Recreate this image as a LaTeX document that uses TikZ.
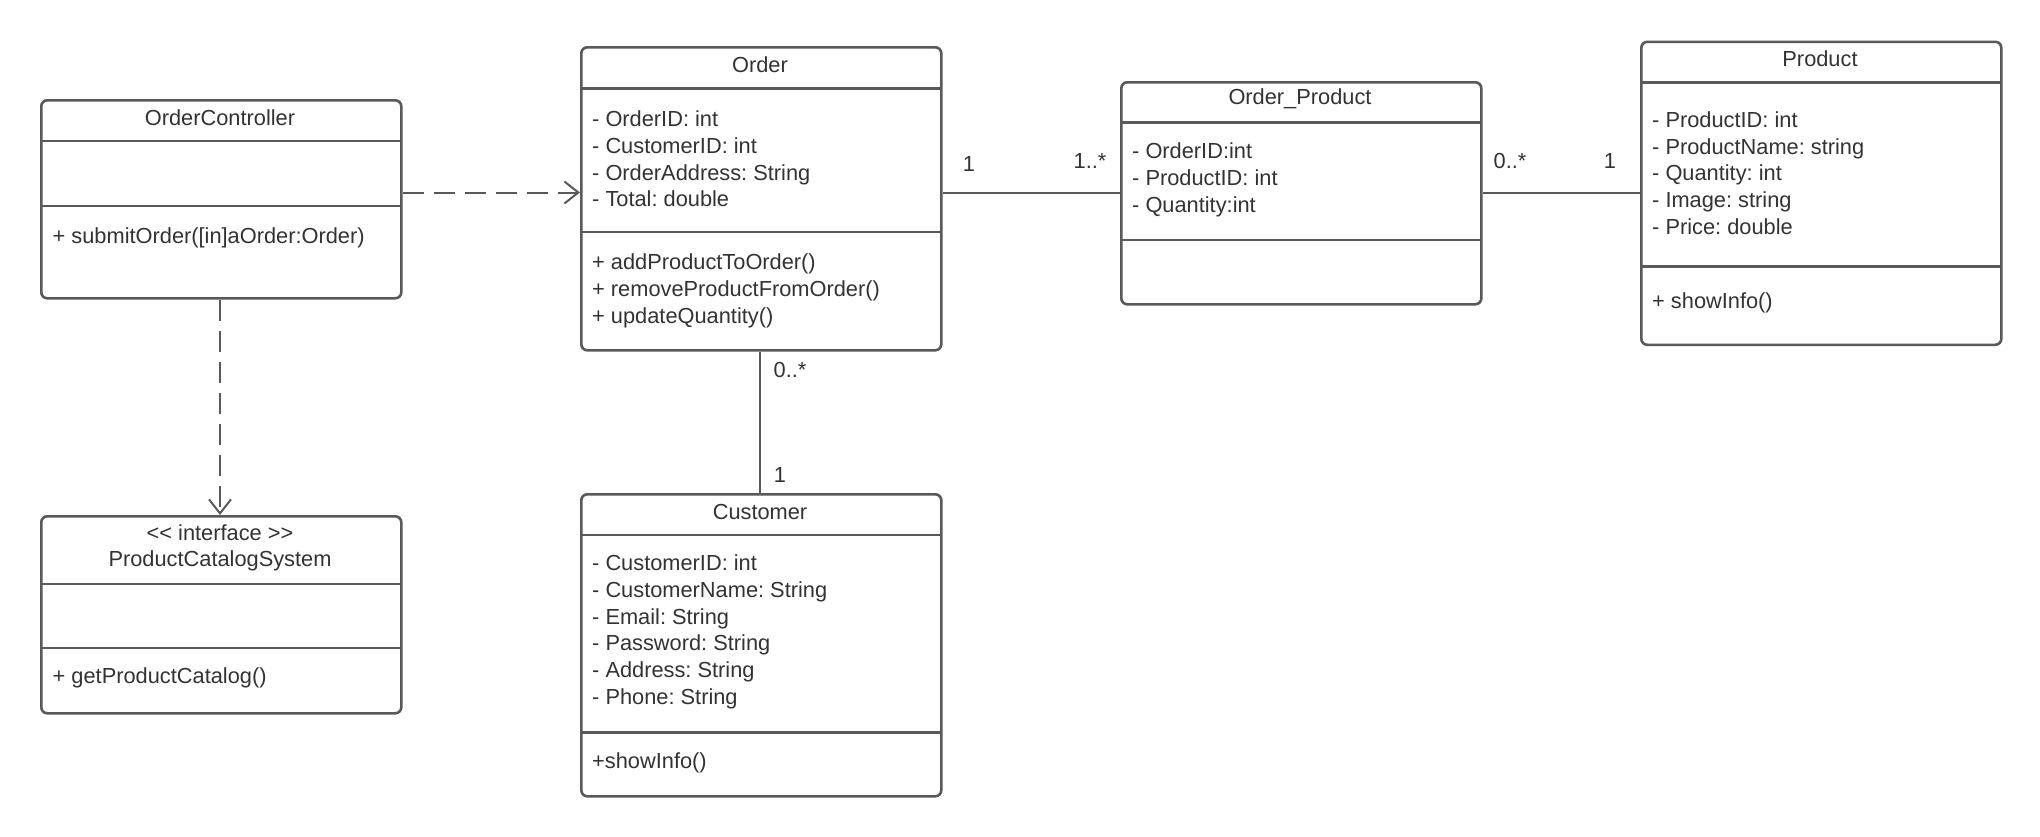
\documentclass[tikz,border=0pt]{standalone}
\usepackage{fontspec}
\setmainfont{Liberation Sans}
\usetikzlibrary{arrows.meta}
\frenchspacing
\definecolor{linec}{HTML}{595959}
\definecolor{textc}{HTML}{333333}
\tikzset{
  classbox/.style={draw=linec, line width=2.6pt, rounded corners=6pt, fill=white, anchor=north west, inner sep=0pt},
  sepline/.style={draw=linec, line width=2.6pt},
  txt/.style={anchor=west, inner sep=0pt, text=textc, align=left, font=\fontsize{21.8}{26.7}\selectfont},
  ttl/.style={anchor=center, inner sep=0pt, text=textc, align=center, font=\fontsize{21.8}{26}\selectfont},
  mult/.style={anchor=center, inner sep=0pt, text=textc, font=\fontsize{21.8}{26}\selectfont},
  assoc/.style={draw=linec, line width=2pt},
  dep/.style={draw=linec, line width=2pt, dash pattern=on 21pt off 10pt, -{Straight Barb[length=14pt,width=22pt,line width=2pt]}}
}
\begin{document}
\begin{tikzpicture}[x=1pt,y=-1pt]
\useasboundingbox[fill=white] (0,0) rectangle (2040,836);

% OrderController
\node[classbox, minimum width=360pt, minimum height=198pt] (oc) at (40,99) {};
\draw[sepline] (40,141) -- (400,141);
\draw[sepline] (40,206) -- (400,206);
\node[ttl] (octitle) at (220,118) {OrderController};
\node[txt] (ocm) at (52.5,238) {+ submitOrder([in]aOrder:Order)};

% ProductCatalogSystem
\node[classbox, minimum width=360pt, minimum height=197pt] (pcs) at (40,515) {};
\draw[sepline] (40,584) -- (400,584);
\draw[sepline] (40,648) -- (400,648);
\node[ttl] (pcstitle) at (220,548) {\textless{}\textless{} interface \textgreater{}\textgreater{}\\ProductCatalogSystem};
\node[txt] (pcsm) at (52.5,678) {+ getProductCatalog()};

% Order
\node[classbox, minimum width=360pt, minimum height=303pt] (order) at (580,46) {};
\draw[sepline] (580,88.5) -- (940,88.5);
\draw[sepline] (580,232) -- (940,232);
\node[ttl] (ordertitle) at (760,65) {Order};
\node[txt] (ordera) at (592,159) {- OrderID: int\\- CustomerID: int\\- OrderAddress: String\\- Total: double};
\node[txt] (orderm) at (592,291) {+ addProductToOrder()\\+ removeProductFromOrder()\\+ updateQuantity()};

% Order_Product
\node[classbox, minimum width=360pt, minimum height=222pt] (op) at (1120,81) {};
\draw[sepline] (1120,122.5) -- (1480,122.5);
\draw[sepline] (1120,240) -- (1480,240);
\node[ttl] (optitle) at (1300,99) {Order\_Product};
\node[txt] (opa) at (1132,180) {- OrderID:int\\- ProductID: int\\- Quantity:int};

% Product
\node[classbox, minimum width=360pt, minimum height=303pt] (prod) at (1640,40.5) {};
\draw[sepline] (1640,82.5) -- (2000,82.5);
\draw[sepline] (1640,266.7) -- (2000,266.7);
\node[ttl] (prodtitle) at (1820,59) {Product};
\node[txt] (proda) at (1652,173) {- ProductID: int\\- ProductName: string\\- Quantity: int\\- Image: string\\- Price: double};
\node[txt] (prodm) at (1652,303) {+ showInfo()};

% Customer
\node[classbox, minimum width=360pt, minimum height=302pt] (cust) at (580,493) {};
\draw[sepline] (580,535) -- (940,535);
\draw[sepline] (580,732.5) -- (940,732.5);
\node[ttl] (custtitle) at (760,512) {Customer};
\node[txt] (custa) at (592,632) {- CustomerID: int\\- CustomerName: String\\- Email: String\\- Password: String\\- Address: String\\- Phone: String};
\node[txt] (custm) at (592,763) {+showInfo()};

% connectors
\draw[dep] (oc.east |- 0,192.5) -- (order.west |- 0,192.5);
\draw[dep] (oc.south -| 220,0) -- (pcs.north -| 220,0);
\draw[assoc] (order.east |- 0,192.5) -- (op.west |- 0,192.5);
\draw[assoc] (op.east |- 0,192.5) -- (prod.west |- 0,192.5);
\draw[assoc] (order.south -| 760,0) -- (cust.north -| 760,0);

% multiplicities
\node[mult] (m1) at (969,164) {1};
\node[mult] (m2) at (1090,161) {1..*};
\node[mult] (m3) at (1510,161) {0..*};
\node[mult] (m4) at (1610,161) {1};
\node[mult] (m5) at (790,370) {0..*};
\node[mult] (m6) at (780,475) {1};
\end{tikzpicture}
\end{document}
